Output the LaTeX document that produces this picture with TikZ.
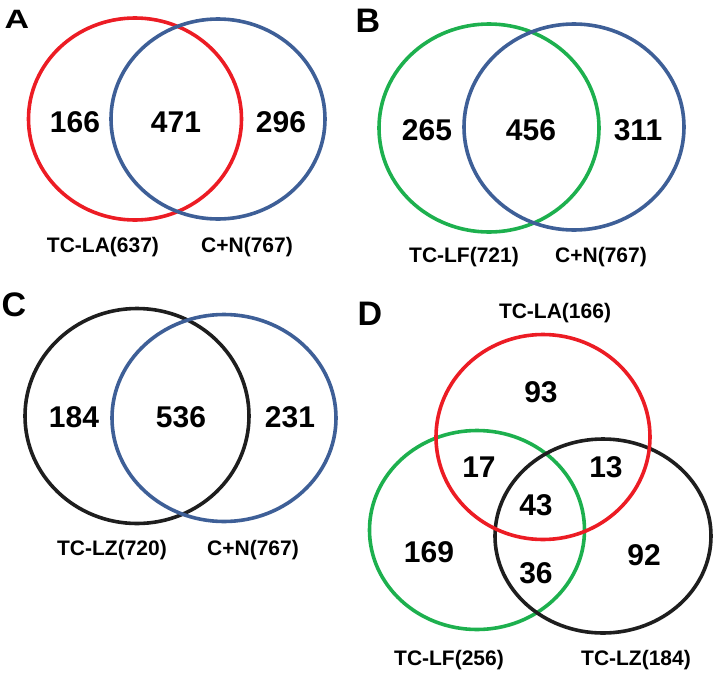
\documentclass[tikz,border=0pt]{standalone}
\usepackage{fontspec}
\setmainfont{Liberation Sans}
\usetikzlibrary{shapes.geometric}
\definecolor{vred}{HTML}{EC1C24}
\definecolor{vblue}{HTML}{3E5F97}
\definecolor{vgreen}{HTML}{1DB04E}
\definecolor{vblack}{HTML}{1E1E1E}
\tikzset{
  venn/.style={draw, ellipse, inner sep=0pt, line width=3.6pt},
  num/.style={font=\fontsize{30}{32}\selectfont\bfseries, inner sep=0pt},
  lab/.style={font=\fontsize{21}{23}\selectfont\bfseries, inner sep=0pt},
  panel/.style={font=\fontsize{34}{36}\selectfont\bfseries, inner sep=0pt}
}
\begin{document}
\begin{tikzpicture}[x=1pt,y=1pt]
\useasboundingbox (0,0) rectangle (713,-675);
% Panel A
\node[panel] (pA) at (17,-19) {\scalebox{1}[0.78]{A}};
\node[venn, vred, minimum width=213pt, minimum height=202pt] (a1) at (135,-119) {};
\node[venn, vblue, minimum width=214pt, minimum height=200pt] (a2) at (218,-119) {};
\node[num] (na1) at (75,-122) {166};
\node[num] (na2) at (176,-122) {471};
\node[num] (na3) at (281,-122) {296};
\node[lab] (la1) at (103,-247) {TC-LA(637)};
\node[lab] (la2) at (247,-247) {C+N(767)};
% Panel B
\node[panel] (pB) at (368,-21) {B};
\node[venn, vgreen, minimum width=220pt, minimum height=208pt] (b1) at (489,-128) {};
\node[venn, vblue, minimum width=220pt, minimum height=206pt] (b2) at (574,-127) {};
\node[num] (nb1) at (427,-130) {265};
\node[num] (nb2) at (531,-130) {456};
\node[num] (nb3) at (638,-130) {311};
\node[lab] (lb1) at (464,-257) {TC-LF(721)};
\node[lab] (lb2) at (601,-257) {C+N(767)};
% Panel C
\node[panel] (pC) at (14,-305) {C};
\node[venn, vblack, minimum width=224pt, minimum height=215pt] (c1) at (137,-416) {};
\node[venn, vblue, minimum width=224pt, minimum height=207pt] (c2) at (224,-418) {};
\node[num] (nc1) at (74,-417) {184};
\node[num] (nc2) at (181,-417) {536};
\node[num] (nc3) at (290,-417) {231};
\node[lab] (lc1) at (112,-550) {TC-LZ(720)};
\node[lab] (lc2) at (253,-550) {C+N(767)};
% Panel D
\node[panel] (pD) at (370,-314) {D};
\node[lab] (ld0) at (555,-313) {TC-LA(166)};
\node[venn, vgreen, minimum width=215pt, minimum height=199pt] (d2) at (477,-530) {};
\node[venn, vblack, minimum width=216pt, minimum height=194pt] (d3) at (603,-536) {};
\node[venn, vred, minimum width=214pt, minimum height=205pt] (d1) at (543,-437) {};
\node[num] (nd1) at (541,-392) {93};
\node[num] (nd2) at (479,-467) {17};
\node[num] (nd3) at (606,-467) {13};
\node[num] (nd4) at (536,-505) {43};
\node[num] (nd5) at (429,-552) {169};
\node[num] (nd6) at (536,-573) {36};
\node[num] (nd7) at (644,-555) {92};
\node[lab] (ld1) at (449,-660) {TC-LF(256)};
\node[lab] (ld2) at (636,-660) {TC-LZ(184)};
\end{tikzpicture}
\end{document}
